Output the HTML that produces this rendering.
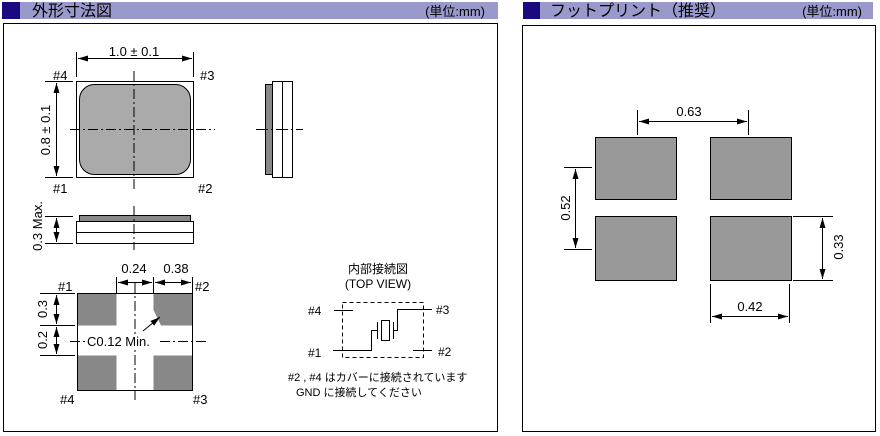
<!DOCTYPE html>
<html><head><meta charset="utf-8"><style>
body{margin:0;background:#fff;width:880px;height:436px;overflow:hidden}
svg{display:block}
text{font-family:"Liberation Sans","Noto Sans CJK JP",sans-serif;fill:#000}
</style></head><body>
<svg width="880" height="436" viewBox="0 0 880 436">
<defs>
<marker id="a" viewBox="0 0 10 6" refX="10" refY="3" markerWidth="10" markerHeight="6" markerUnits="userSpaceOnUse" orient="auto-start-reverse"><path d="M0,0L10,3L0,6z" fill="#000"/></marker>
</defs>
<!-- headers -->
<rect x="2" y="2" width="496" height="17" fill="#9999cc"/>
<rect x="2" y="2" width="18" height="17" fill="#1a0a80"/>
<text x="32" y="16" font-size="16">外形寸法図</text>
<text x="485" y="16" font-size="13" text-anchor="end">(単位:mm)</text>
<rect x="523" y="2" width="350" height="17" fill="#9999cc"/>
<rect x="523" y="2" width="17" height="17" fill="#1a0a80"/>
<text x="550" y="16" font-size="16">フットプリント（推奨）</text>
<text x="862" y="16" font-size="13" text-anchor="end">(単位:mm)</text>
<!-- boxes -->
<rect x="3.5" y="23.5" width="494" height="408" fill="none" stroke="#000"/>
<rect x="522.5" y="25.5" width="353" height="406" fill="none" stroke="#000"/>

<g stroke="#000" fill="none" stroke-width="1">
<rect x="76.5" y="81.5" width="117" height="96" fill="#fff"/>
<rect x="79.5" y="84.5" width="111" height="90" rx="15" fill="#aaa"/>
<line x1="134" y1="71" x2="134" y2="190" stroke-dasharray="10,3,2,3"/>
<line x1="70" y1="129.5" x2="215" y2="129.5" stroke-dasharray="10,3,2,3"/>
<line x1="76.5" y1="52" x2="76.5" y2="77"/><line x1="193.5" y1="52" x2="193.5" y2="77"/>
<line x1="78" y1="58.5" x2="192" y2="58.5" marker-start="url(#a)" marker-end="url(#a)"/>
<line x1="45" y1="81.5" x2="73" y2="81.5"/><line x1="45" y1="177.5" x2="73" y2="177.5"/>
<line x1="56.5" y1="83" x2="56.5" y2="176" marker-start="url(#a)" marker-end="url(#a)"/>
<rect x="265.5" y="84.5" width="7" height="90" fill="#888"/>
<rect x="272.5" y="81.5" width="10" height="96" fill="#fff"/>
<rect x="282.5" y="81.5" width="10" height="96" fill="#fff"/>
<line x1="256" y1="129.5" x2="303" y2="129.5" stroke-dasharray="12,3,2,3"/>
<rect x="79.5" y="215.5" width="111" height="6" fill="#888"/>
<rect x="76.5" y="221.5" width="117" height="11" fill="#fff"/>
<rect x="76.5" y="232.5" width="117" height="11" fill="#fff"/>
<line x1="134" y1="206" x2="134" y2="250" stroke-dasharray="10,3,2,3"/>
<line x1="45" y1="216.5" x2="73" y2="216.5"/><line x1="45" y1="243.5" x2="73" y2="243.5"/>
<line x1="56.5" y1="218" x2="56.5" y2="242" marker-start="url(#a)" marker-end="url(#a)"/>
<rect x="77.5" y="293.5" width="115" height="97" fill="#fff"/>
<rect x="77.5" y="293.5" width="39" height="32" fill="#888" stroke="none"/>
<path d="M153.5,293.5H192.5V325.5H161L153.5,310Z" fill="#888" stroke="none"/>
<rect x="77.5" y="355.5" width="39" height="35" fill="#888" stroke="none"/>
<rect x="153.5" y="355.5" width="39" height="35" fill="#888" stroke="none"/>
<rect x="77.5" y="293.5" width="115" height="97"/>
<line x1="135" y1="283" x2="135" y2="400" stroke-dasharray="10,3,2,3"/>
<line x1="70" y1="341.5" x2="207" y2="341.5" stroke-dasharray="10,3,2,3"/>
<line x1="116.5" y1="277" x2="116.5" y2="293"/><line x1="153.5" y1="277" x2="153.5" y2="293"/><line x1="192.5" y1="277" x2="192.5" y2="293"/>
<line x1="118" y1="282.5" x2="152" y2="282.5" marker-start="url(#a)" marker-end="url(#a)"/>
<line x1="155" y1="282.5" x2="191" y2="282.5" marker-start="url(#a)" marker-end="url(#a)"/>
<line x1="40" y1="293.5" x2="75" y2="293.5"/><line x1="40" y1="325.5" x2="75" y2="325.5"/><line x1="40" y1="355.5" x2="75" y2="355.5"/>
<line x1="56.5" y1="295" x2="56.5" y2="324" marker-start="url(#a)" marker-end="url(#a)"/>
<line x1="56.5" y1="327" x2="56.5" y2="354" marker-start="url(#a)" marker-end="url(#a)"/>
</g>
<rect x="85" y="334" width="74" height="14" fill="#fff"/>
<line x1="143" y1="331" x2="160" y2="317" stroke="#000" marker-end="url(#a)"/>
<g font-size="13">
<text x="134" y="56" text-anchor="middle">1.0 ± 0.1</text>
<text x="53" y="80">#4</text><text x="200" y="80">#3</text>
<text x="53" y="193">#1</text><text x="198" y="193">#2</text>
<text transform="translate(50,130) rotate(-90)" text-anchor="middle">0.8 ± 0.1</text>
<text transform="translate(42,226) rotate(-90)" text-anchor="middle">0.3 Max.</text>
<text x="134" y="273" text-anchor="middle">0.24</text>
<text x="176" y="273" text-anchor="middle">0.38</text>
<text x="58" y="291">#1</text><text x="195" y="291">#2</text>
<text x="60" y="404">#4</text><text x="193" y="404">#3</text>
<text transform="translate(47,309) rotate(-90)" text-anchor="middle">0.3</text>
<text transform="translate(47,340) rotate(-90)" text-anchor="middle">0.2</text>
<text x="87" y="346">C0.12 Min.</text>
<text x="378" y="273" text-anchor="middle" font-size="12">内部接続図</text>
<text x="378" y="288" text-anchor="middle" font-size="12">(TOP VIEW)</text>
</g>
<g stroke="#000" fill="none">
<rect x="342.5" y="302.5" width="81" height="55" stroke-dasharray="4,3"/>
<line x1="334" y1="310.5" x2="353" y2="310.5"/>
<line x1="413" y1="350.5" x2="432" y2="350.5"/>
<polyline points="333,350.5 371.5,350.5 371.5,330.5 377,330.5"/>
<line x1="377.5" y1="322" x2="377.5" y2="339"/>
<rect x="381.5" y="320.5" width="8" height="20"/>
<line x1="393.5" y1="322" x2="393.5" y2="339"/>
<polyline points="393.5,330.5 397.5,330.5 397.5,309.5 432,309.5"/>
</g>
<g font-size="12">
<text x="308" y="315">#4</text><text x="436" y="314">#3</text>
<text x="308" y="357">#1</text><text x="438" y="356">#2</text>
<text x="288" y="381" font-size="11">#2 , #4 はカバーに接続されています</text>
<text x="296" y="396" font-size="11">GND に接続してください</text>
</g>
<g stroke="#000" fill="#999">
<rect x="595.5" y="137.5" width="81" height="62"/>
<rect x="710.5" y="137.5" width="81" height="62"/>
<rect x="595.5" y="216.5" width="81" height="64"/>
<rect x="710.5" y="216.5" width="81" height="64"/>
</g>
<g stroke="#000" fill="none">
<line x1="637.5" y1="110" x2="637.5" y2="135"/><line x1="748.5" y1="110" x2="748.5" y2="135"/>
<line x1="639" y1="121.5" x2="747" y2="121.5" marker-start="url(#a)" marker-end="url(#a)"/>
<line x1="564" y1="167.5" x2="592" y2="167.5"/><line x1="564" y1="249.5" x2="592" y2="249.5"/>
<line x1="575.5" y1="169" x2="575.5" y2="248" marker-start="url(#a)" marker-end="url(#a)"/>
<line x1="793" y1="216.5" x2="833" y2="216.5"/><line x1="793" y1="280.5" x2="833" y2="280.5"/>
<line x1="822.5" y1="218" x2="822.5" y2="279" marker-start="url(#a)" marker-end="url(#a)"/>
<line x1="710.5" y1="284" x2="710.5" y2="323"/><line x1="789.5" y1="284" x2="789.5" y2="323"/>
<line x1="712" y1="316.5" x2="788" y2="316.5" marker-start="url(#a)" marker-end="url(#a)"/>
</g>
<g font-size="13">
<text x="689" y="116" text-anchor="middle">0.63</text>
<text transform="translate(570,208) rotate(-90)" text-anchor="middle">0.52</text>
<text transform="translate(843,247) rotate(-90)" text-anchor="middle">0.33</text>
<text x="750" y="311" text-anchor="middle">0.42</text>
</g>
</svg>
</body></html>
